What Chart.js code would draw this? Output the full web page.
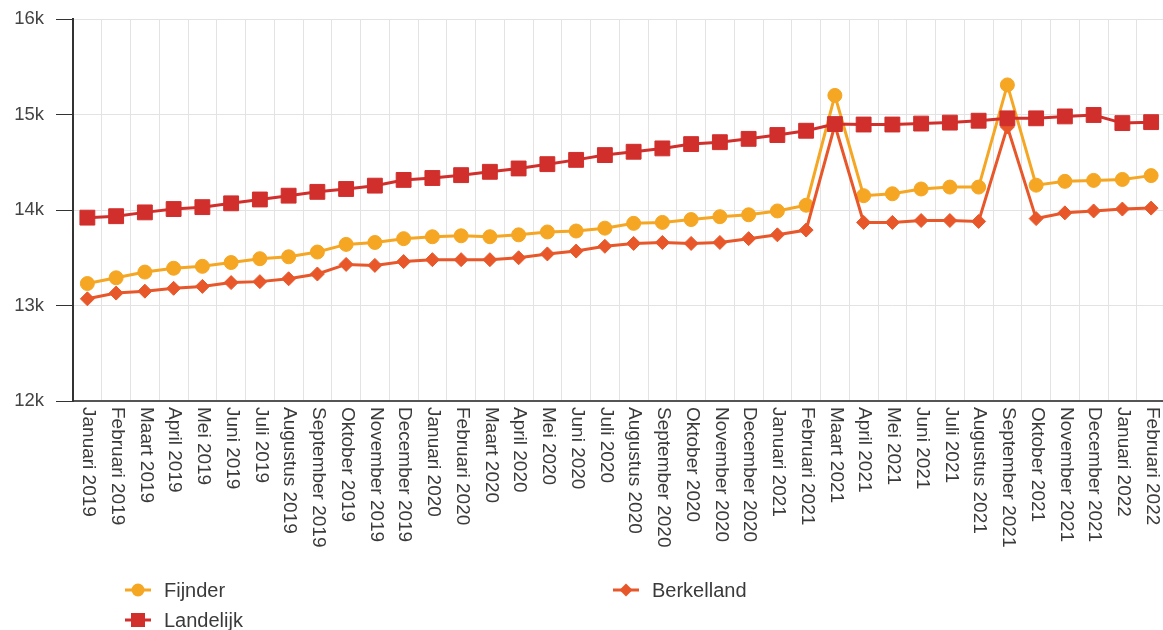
<!DOCTYPE html>
<html><head><meta charset="utf-8">
<script src="https://cdn.jsdelivr.net/npm/chart.js@4"></script>
<style>
body{margin:0;background:#fff;}
#wrap{position:relative;width:1163px;height:630px;overflow:hidden;}
canvas{display:block;}
.item{position:absolute;display:flex;align-items:center;height:26px;font:20px "Liberation Sans",Arial,sans-serif;color:#3a3a3a;white-space:nowrap;}
.item svg{margin-right:12px;}
</style></head>
<body><div id="wrap"><canvas id="c" width="1177" height="630"></canvas><div id="legend"></div></div>
<script>
const categories = [
 "Januari 2019","Februari 2019","Maart 2019","April 2019","Mei 2019","Juni 2019","Juli 2019","Augustus 2019","September 2019","Oktober 2019","November 2019","December 2019",
 "Januari 2020","Februari 2020","Maart 2020","April 2020","Mei 2020","Juni 2020","Juli 2020","Augustus 2020","September 2020","Oktober 2020","November 2020","December 2020",
 "Januari 2021","Februari 2021","Maart 2021","April 2021","Mei 2021","Juni 2021","Juli 2021","Augustus 2021","September 2021","Oktober 2021","November 2021","December 2021",
 "Januari 2022","Februari 2022"];

const fijnder = [
 13230,13290,13350,13390,13410,13450,13490,13510,13560,13640,13660,13700,
 13720,13730,13720,13740,13770,13780,13810,13860,13870,13900,13930,13950,
 13990,14050,15200,14150,14170,14220,14240,14240,15310,14260,14300,14310,
 14320,14360];

const berkelland = [
 13070,13130,13150,13180,13200,13240,13250,13280,13330,13430,13420,13460,
 13480,13480,13480,13500,13540,13570,13620,13650,13660,13650,13660,13700,
 13740,13790,14890,13870,13870,13890,13890,13880,14870,13910,13970,13990,
 14010,14020];

const landelijk = [
 13920,13935,13975,14010,14030,14070,14110,14150,14190,14220,14255,14315,
 14335,14365,14400,14435,14480,14525,14575,14610,14645,14690,14710,14745,
 14785,14830,14900,14895,14895,14905,14915,14935,14960,14960,14980,14995,
 14910,14920];

const yTicks = [12000,13000,14000,15000,16000];

const FONT = '"Liberation Sans", Arial, sans-serif';
const C_F = '#F5A623', C_B = '#E8572A', C_L = '#D12F2C';

const xLabelPlugin = {
  id:'xlabels',
  afterDraw(chart){
    const xs = chart.scales.x, ctx = chart.ctx, bottom = chart.chartArea.bottom;
    ctx.save();
    ctx.font = '19px ' + FONT;
    ctx.fillStyle = '#3a3a3a';
    ctx.textAlign = 'left';
    ctx.textBaseline = 'middle';
    categories.forEach((lab,i)=>{
      const x = xs.getPixelForValue(i);
      ctx.save();
      ctx.translate(x + 1, bottom + 6);
      ctx.rotate(Math.PI/2);
      ctx.fillText(lab, 0, 0);
      ctx.restore();
    });
    ctx.restore();
  }
};

new Chart(document.getElementById('c'), {
  type:'line',
  data:{
    labels: categories,
    datasets:[
      {label:'Fijnder', data:fijnder, borderColor:C_F, backgroundColor:C_F, pointStyle:'circle', pointRadius:7, borderWidth:3, pointBorderWidth:1, order:2},
      {label:'Berkelland', data:berkelland, borderColor:C_B, backgroundColor:C_B, pointStyle:'rectRot', pointRadius:7, borderWidth:3, pointBorderWidth:1, order:1},
      {label:'Landelijk', data:landelijk, borderColor:C_L, backgroundColor:C_L, pointStyle:'rect', pointRadius:10.5, borderWidth:3, pointBorderWidth:1, order:0}
    ]
  },
  options:{
    responsive:false, animation:false, events:[],
    layout:{padding:{top:19,right:0,left:0,bottom:0}},
    plugins:{legend:{display:false}, tooltip:{enabled:false}},
    scales:{
      x:{
        offset:true,
        grid:{offset:true, color:'#e3e3e3', lineWidth:1, drawTicks:false, tickLength:0},
        border:{color:'#555', width:2},
        ticks:{display:false},
        afterFit(s){ s.height = 229; }
      },
      y:{
        min:12000, max:16000,
        afterBuildTicks(s){ s.ticks = yTicks.map(v=>({value:v})); },
        ticks:{callback:v=>(v/1000)+'k', font:{size:18.5, family:FONT}, color:'#444', padding:12},
        grid:{color:'#e3e3e3', tickColor:'#333', tickLength:17, lineWidth:1},
        border:{color:'#333', width:2},
        afterFit(s){ s.width = 73; s.paddingTop = 0; s.paddingBottom = 0; }
      }
    }
  },
  plugins:[xLabelPlugin]
});

// HTML legend
const legendItems = [
  {label:'Fijnder', color:C_F, shape:'circle', left:124, top:577},
  {label:'Berkelland', color:C_B, shape:'diamond', left:612, top:577},
  {label:'Landelijk', color:C_L, shape:'square', left:124, top:607}
];
const lg = document.getElementById('legend');
legendItems.forEach(it=>{
  let m;
  if(it.shape==='circle') m = `<circle cx="14" cy="10" r="6.5" fill="${it.color}"/>`;
  else if(it.shape==='diamond') m = `<polygon points="14,3.5 20.5,10 14,16.5 7.5,10" fill="${it.color}"/>`;
  else m = `<rect x="7" y="3" width="14" height="14" fill="${it.color}"/>`;
  const d = document.createElement('div');
  d.className='item';
  d.style.left = it.left+'px'; d.style.top = it.top+'px';
  d.innerHTML = `<svg width="28" height="20"><line x1="1" y1="10" x2="27" y2="10" stroke="${it.color}" stroke-width="3"/>${m}</svg><span>${it.label}</span>`;
  lg.appendChild(d);
});
</script>
</body></html>
